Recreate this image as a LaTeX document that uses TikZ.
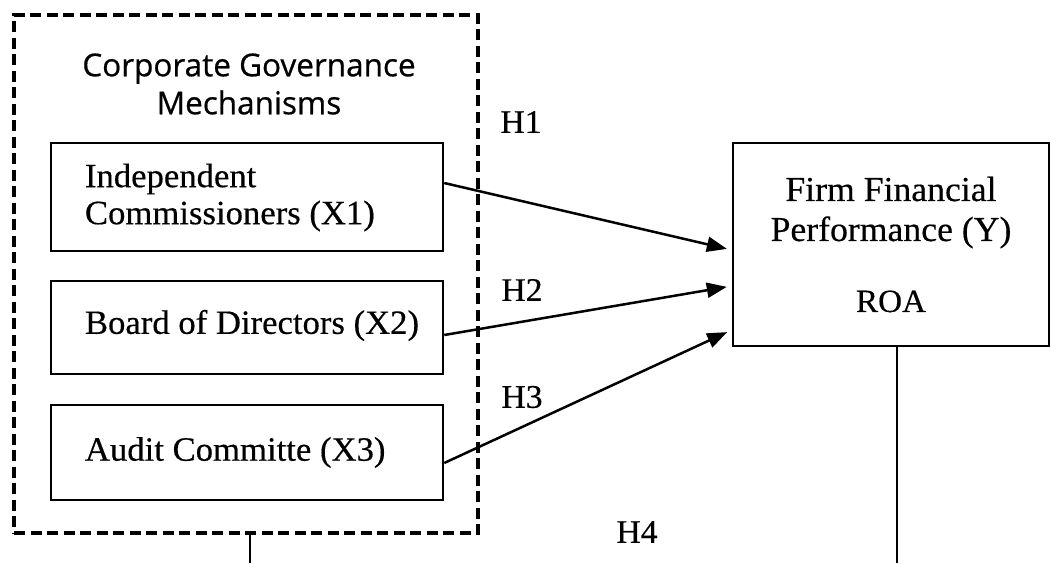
\documentclass[tikz,border=0pt]{standalone}
\usepackage{fontspec}
\setmainfont{Liberation Serif}[FakeStretch=1.02,FakeBold=0.4]
\newfontfamily\titlefont{Open Sans}[FakeBold=0.6]
\usetikzlibrary{arrows.meta}
\begin{document}
\begin{tikzpicture}[x=1pt,y=-1pt,
  every node/.style={inner sep=0pt},
  varbox/.style={draw, line width=2.5pt, minimum width=392pt},
  vartext/.style={anchor=west, align=left, font=\fontsize{34}{37}\selectfont},
  ybox/.style={draw, line width=2.5pt, minimum width=316pt, minimum height=203pt,
    align=center, font=\fontsize{35}{40}\selectfont},
  group/.style={draw, line width=3.3pt, dash pattern=on 11pt off 5.5pt,
    minimum width=464pt, minimum height=518pt},
  arr/.style={-{Stealth[length=20pt,width=15pt,inset=0pt]}, line width=2.5pt, shorten >=5pt},
  link/.style={line width=2.5pt},
  hlab/.style={font=\fontsize{33}{38}\selectfont}
]
\useasboundingbox (0,0) rectangle (1051,563);
\node[group] (cg) at (246,274) {};
\node[font=\titlefont\fontsize{31.5}{38}\selectfont, align=center] (title) at (249,84)
  {Corporate Governance\\Mechanisms};
\node[varbox, minimum height=108pt] (x1) at (247,197) {};
\node[varbox, minimum height=93pt] (x2) at (247,327.5) {};
\node[varbox, minimum height=95pt] (x3) at (247,452.5) {};
\node[vartext] (t1) at ([xshift=35pt,yshift=-0.5pt]x1.west) {Independent\\Commissioners (X1)};
\node[vartext] (t2) at ([xshift=35pt,yshift=2pt]x2.west) {Board of Directors (X2)};
\node[vartext] (t3) at ([xshift=35pt]x3.west) {Audit Committe (X3)};
\node[ybox] (y) at (891,244.5) {Firm Financial\\Performance (Y)\\[31pt]{\fontsize{32.5}{38}\selectfont ROA}};
\draw[arr] ([yshift=14pt]x1.east) -- ([yshift=-5.5pt]y.west);
\draw[arr] ([yshift=-7.5pt]x2.east) -- ([yshift=-41.5pt]y.west);
\draw[arr] ([yshift=-10.5pt]x3.east) -- ([yshift=-85.5pt]y.west);
\node[hlab] (h1) at (521,122) {H1};
\node[hlab] (h2) at (522,290) {H2};
\node[hlab] (h3) at (522,397) {H3};
\node[hlab] (h4) at (637,532) {H4};
\coordinate (b1) at (250,563);
\coordinate (b2) at (897,563);
\draw[link] (cg.south -| b1) -- (b1);
\draw[link] (y.south -| b2) -- (b2);
\end{tikzpicture}
\end{document}
